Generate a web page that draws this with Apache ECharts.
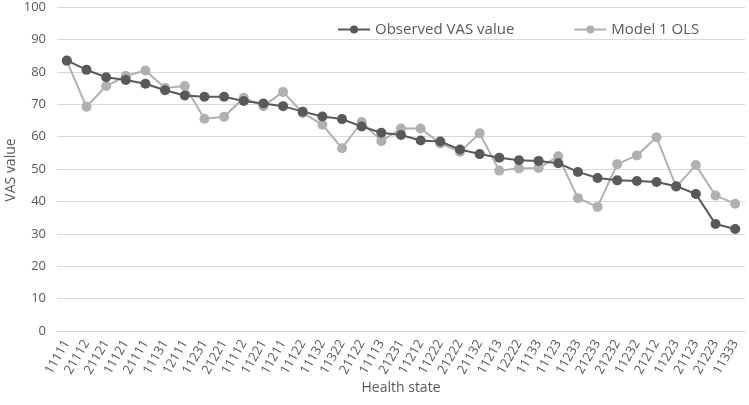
<!DOCTYPE html>
<html><head><meta charset="utf-8">
<script src="https://cdn.jsdelivr.net/npm/echarts@6/dist/echarts.min.js"></script>
<style>html,body{margin:0;padding:0;background:#fff}#c{width:749px;height:405px}</style>
</head><body><div id="c"></div>
<script>
const categories = ['11111','21112','21121','11121','21111','11131','12111','11231','21221','11112','11221','11211','11122','11132','11322','21122','11113','21231','11212','11222','21222','21132','11213','12222','11133','11123','11233','21233','21232','11232','21212','11223','21123','21223','11333'];
const observed = [83.5,80.6,78.3,77.5,76.3,74.3,72.7,72.3,72.3,71.0,70.2,69.4,67.7,66.2,65.4,63.1,61.2,60.5,58.8,58.5,56.0,54.6,53.5,52.7,52.5,51.8,49.1,47.2,46.5,46.3,46.0,44.7,42.3,33.0,31.5];
const model1 = [83.3,69.2,75.6,78.7,80.4,75.0,75.6,65.5,66.1,72.0,69.4,73.8,67.3,63.7,56.4,64.5,58.6,62.5,62.5,57.9,55.3,61.0,49.5,50.2,50.3,53.9,41.0,38.3,51.5,54.2,59.8,44.5,51.2,41.8,39.3];
const yTicks = {min:0, max:100, interval:10};

const chart = echarts.init(document.getElementById('c'));
const font = 'Open Sans';
chart.setOption({
  animation:false,
  textStyle:{fontFamily:font},
  grid:{left:57,right:4,top:7,bottom:74,outerBoundsMode:'none',containLabel:false},
  legend:{
    top:17, left:332, itemGap:59, itemWidth:32, itemHeight:10,
    textStyle:{color:'#595959',fontSize:15,fontFamily:font},
    data:['Observed VAS value','Model 1 OLS']
  },
  graphic:[{
    type:'text', x:11, y:170, rotation:Math.PI/2,
    style:{text:'VAS value', fill:'#595959', font:'14px "Open Sans"', textAlign:'center', textVerticalAlign:'middle'}
  }],
  xAxis:{
    type:'category', data:categories, boundaryGap:true,
    name:'Health state', nameLocation:'middle', nameGap:50, nameMoveOverlap:false,
    nameTextStyle:{color:'#595959',fontSize:14},
    axisLine:{show:true,lineStyle:{color:'#d9d9d9'}},
    axisTick:{show:false},
    axisLabel:{rotate:60,interval:0,color:'#595959',fontSize:13,margin:10}
  },
  yAxis:{
    type:'value', min:yTicks.min, max:yTicks.max, interval:yTicks.interval,
    axisLine:{show:false}, axisTick:{show:false},
    axisLabel:{color:'#595959',fontSize:13,margin:11},
    splitLine:{lineStyle:{color:'#d9d9d9',width:1}}
  },
  series:[
    {name:'Model 1 OLS',type:'line',data:model1,symbol:'circle',symbolSize:10,z:2,
     itemStyle:{color:'#b0b0b0'},lineStyle:{color:'#b0b0b0',width:2}},
    {name:'Observed VAS value',type:'line',data:observed,symbol:'circle',symbolSize:10,z:3,
     itemStyle:{color:'#595959'},lineStyle:{color:'#595959',width:2}}
  ]
});
</script></body></html>
